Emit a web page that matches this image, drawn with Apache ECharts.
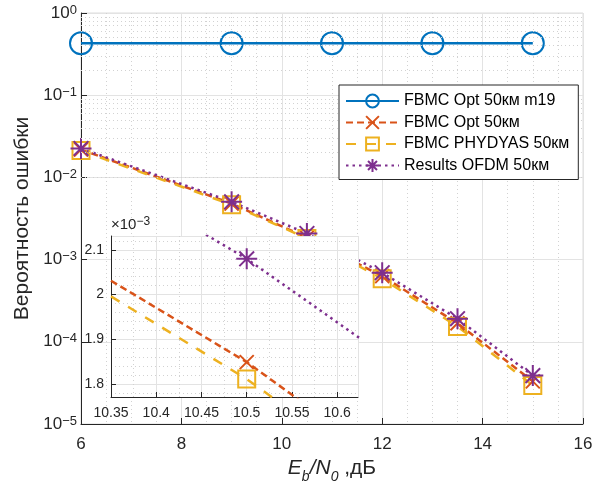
<!DOCTYPE html>
<html>
<head>
<meta charset="utf-8">
<script src="https://cdn.jsdelivr.net/npm/echarts@6/dist/echarts.min.js"></script>
<style>
  html, body { margin: 0; padding: 0; background: #fff; }
  #main { width: 603px; height: 488px; }
</style>
</head>
<body>
<div id="main"></div>
<script>
// цвета MATLAB по умолчанию
const C_BLUE = '#0072BD';
const C_ORANGE = '#D95319';
const C_YELLOW = '#EDB120';
const C_PURPLE = '#7E2F8E';
const TXT = '#262626';

// основной график
const xM19 = [6, 9, 11, 13, 15];
const berM19 = [0.428, 0.428, 0.428, 0.428, 0.428];
const xSnr = [6, 9, 10.5, 12, 13.5, 15];
const berOpt = [0.0218, 0.0048, 0.001849, 0.00063, 0.000168, 0.000033];
const berPhydyas = [0.0212, 0.00465, 0.001811, 0.000586, 0.000154, 0.0000294];
const berOfdm = [0.0225, 0.00505, 0.00208, 0.000693, 0.000191, 0.0000388];

// врезка (значения в единицах 1e-3)
const xZoom = [10.35, 10.5, 10.65];
const zoomOpt = [2.031, 1.849, 1.63];
const zoomPhydyas = [1.996, 1.811, 1.594];
const zoomOfdm = [2.26, 2.08, 1.867];

const names = ['FBMC Opt 50км m19', 'FBMC Opt 50км', 'FBMC PHYDYAS 50км', 'Results OFDM 50км'];

// мелкая сетка логарифмической оси
const minorY = [];
[1e-5, 1e-4, 1e-3, 1e-2, 1e-1].forEach(d => {
  [2, 3, 4, 5, 6, 7, 8, 9].forEach(k => minorY.push(k * d));
});

const X_PATH = 'path://M0,0L10,10M10,0L0,10';
const STAR_PATH = 'path://M5,0L5,10M0,5L10,5M1.5,1.5L8.5,8.5M8.5,1.5L1.5,8.5';

function pairs(xs, ys) {
  return xs.map((x, i) => [x, ys[i]]);
}

// на врезке маркер только в точке 10.5
function zoomPairs(xs, ys) {
  return xs.map((x, i) => (x === 10.5 ? [x, ys[i]] : { value: [x, ys[i]], symbol: 'none' }));
}

function lineSeries(name, data, color, type, symbol, size, axis, z) {
  return {
    name: name,
    type: 'line',
    data: data,
    xAxisIndex: axis,
    yAxisIndex: axis,
    z: z,
    symbol: symbol,
    symbolSize: size,
    showAllSymbol: true,
    itemStyle: { color: 'transparent', borderColor: color, borderWidth: 2 },
    lineStyle: { color: color, width: 2.5, type: type },
    emphasis: { disabled: true },
  };
}

// показатель степени с настоящим знаком минуса
function expText(v) {
  const e = Math.round(Math.log10(v));
  return e < 0 ? '\u2212' + Math.abs(e) : String(e);
}

const gridLine = { color: '#e3e3e3', width: 1 };
const minorLine = { color: '#d2d2d2', width: 1, type: [1, 3] };

let myChart = echarts.init(document.getElementById('main'), null, { renderer: 'canvas' });

myChart.setOption({
  animation: false,
  backgroundColor: '#fff',
  textStyle: { fontFamily: 'Liberation Sans, Arial, sans-serif', color: TXT },
  grid: [
    {
      left: 81, right: 20, top: 13, bottom: 64,
      show: true, borderColor: '#dcdcdc', borderWidth: 1, backgroundColor: '#fff',
      outerBoundsMode: 'none',
    },
    {
      left: 111, right: 245, top: 236, bottom: 91,
      show: true, backgroundColor: '#fff', borderWidth: 0, z: 5,
      outerBoundsMode: 'none',
    },
  ],
  legend: {
    data: names,
    orient: 'vertical',
    left: 339,
    top: 85,
    padding: [8, 9, 6, 6],
    itemWidth: 53,
    itemHeight: 16,
    itemGap: 5.5,
    backgroundColor: '#fff',
    borderColor: TXT,
    borderWidth: 1,
    borderRadius: 0,
    textStyle: { fontSize: 16, color: '#000' },
    itemStyle: { borderWidth: 2 },
    z: 20,
  },
  xAxis: [
    {
      type: 'value', gridIndex: 0, min: 6, max: 16, interval: 2,
      axisLine: { show: true, lineStyle: { color: TXT, width: 1 } },
      axisTick: { show: true, inside: true, length: 6, lineStyle: { color: TXT } },
      axisLabel: { fontSize: 17, color: TXT, margin: 12 },
      splitLine: { show: true, lineStyle: gridLine },
      minorTick: { show: false, splitNumber: 4 },
      minorSplitLine: { show: true, lineStyle: minorLine },
      name: '{i|E}{sb|b}{i|/N}{sb|0}{t| ,дБ}',
      nameLocation: 'middle',
      nameGap: 32,
      nameTextStyle: {
        fontSize: 21,
        rich: {
          i: { fontSize: 21, fontStyle: 'italic', lineHeight: 24, padding: [0, 0, 5, 0], verticalAlign: 'bottom', color: TXT },
          sb: { fontSize: 14, fontStyle: 'italic', lineHeight: 16, verticalAlign: 'bottom', color: TXT },
          t: { fontSize: 21, lineHeight: 24, padding: [0, 0, 5, 0], verticalAlign: 'bottom', color: TXT },
        },
      },
    },
    {
      type: 'value', gridIndex: 1, min: 10.35, max: 10.623, interval: 0.05, z: 6,
      axisLine: { show: true, lineStyle: { color: TXT, width: 1 } },
      axisTick: { show: true, inside: true, length: 5, lineStyle: { color: TXT } },
      axisLabel: { fontSize: 14, color: TXT, margin: 9, showMaxLabel: false },
      splitLine: { show: true, lineStyle: gridLine },
      minorTick: { show: false, splitNumber: 2 },
      minorSplitLine: { show: true, lineStyle: minorLine },
    },
  ],
  yAxis: [
    {
      type: 'log', logBase: 10, gridIndex: 0, min: 1e-5, max: 1,
      axisLine: { show: true, lineStyle: { color: TXT, width: 1 } },
      axisTick: { show: true, inside: true, length: 6, lineStyle: { color: TXT } },
      axisLabel: {
        color: TXT,
        fontSize: 17,
        margin: 4,
        formatter: v => '{b|10}{s|' + expText(v) + '}',
        rich: {
          b: { fontSize: 17, lineHeight: 19, color: TXT },
          s: { fontSize: 13, lineHeight: 13, verticalAlign: 'top', color: TXT },
        },
      },
      splitLine: { show: true, lineStyle: gridLine },
      name: 'Вероятность ошибки',
      nameLocation: 'middle',
      nameGap: 45,
      nameTextStyle: { fontSize: 21, color: TXT },
    },
    {
      type: 'value', gridIndex: 1, min: 1.771, max: 2.131, splitNumber: 5, z: 6,
      axisLine: { show: true, lineStyle: { color: TXT, width: 1 } },
      axisTick: { show: true, inside: true, length: 5, lineStyle: { color: TXT } },
      axisLabel: { fontSize: 14, color: TXT, margin: 7, showMinLabel: false, showMaxLabel: false },
      splitLine: { show: true, lineStyle: gridLine },
      minorTick: { show: false, splitNumber: 5 },
      minorSplitLine: { show: true, lineStyle: minorLine },
      name: '{b|×10}{s|\u22123}',
      nameLocation: 'end',
      nameGap: 3,
      nameTextStyle: {
        align: 'left',
        verticalAlign: 'bottom',
        fontSize: 15,
        rich: {
          b: { fontSize: 15, lineHeight: 17, color: TXT },
          s: { fontSize: 12, lineHeight: 12, verticalAlign: 'top', color: TXT },
        },
      },
    },
  ],
  series: [
    {
      name: 'minor-grid',
      type: 'line',
      data: [],
      xAxisIndex: 0,
      yAxisIndex: 0,
      z: 1,
      markLine: {
        silent: true,
        symbol: ['none', 'none'],
        label: { show: false },
        lineStyle: minorLine,
        emphasis: { disabled: true },
        data: minorY.map(v => ({ yAxis: v })),
      },
    },
    lineSeries(names[0], pairs(xM19, berM19), C_BLUE, 'solid', 'circle', 22, 0, 2),
    lineSeries(names[1], pairs(xSnr, berOpt), C_ORANGE, [7, 4], X_PATH, 14, 0, 2),
    lineSeries(names[2], pairs(xSnr, berPhydyas), C_YELLOW, [10, 10], 'rect', 17, 0, 2),
    lineSeries(names[3], pairs(xSnr, berOfdm), C_PURPLE, [2.5, 4], STAR_PATH, 21, 0, 2),
    lineSeries(names[1], zoomPairs(xZoom, zoomOpt), C_ORANGE, [7, 4], X_PATH, 14, 1, 7),
    lineSeries(names[2], zoomPairs(xZoom, zoomPhydyas), C_YELLOW, [10, 10], 'rect', 17, 1, 7),
    lineSeries(names[3], zoomPairs(xZoom, zoomOfdm), C_PURPLE, [2.5, 4], STAR_PATH, 21, 1, 7),
  ],
});
</script>
</body>
</html>
